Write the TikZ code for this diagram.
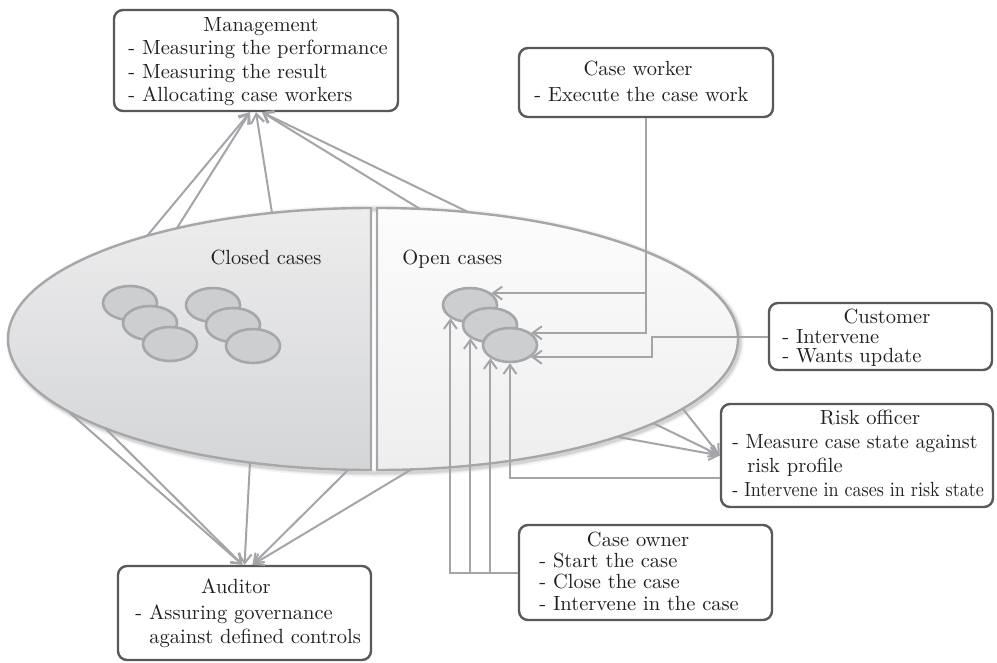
\documentclass[tikz,border=0pt]{standalone}
\usetikzlibrary{arrows.meta,shapes.geometric}
\definecolor{ink}{HTML}{231F20}
\definecolor{frame}{HTML}{58595B}
\definecolor{wire}{HTML}{A3A5A8}
\definecolor{rim}{HTML}{A5A7AA}
\definecolor{casefill}{HTML}{CDCECF}
\definecolor{closedtop}{HTML}{EDEDEE}
\definecolor{closedbot}{HTML}{D4D5D7}
\definecolor{opentop}{HTML}{FCFCFC}
\definecolor{openbot}{HTML}{EEEEEF}
\begin{document}
\begin{tikzpicture}[x=1pt,y=-1pt,
  role/.style={draw=frame, line width=2.4pt, rounded corners=9pt, fill=white, inner sep=0pt},
  txt/.style={scale=2.05, inner sep=0pt, text=ink, font=\fontsize{10}{12}\selectfont},
  case/.style={ellipse, draw=rim, line width=2.6pt, fill=casefill,
    minimum width=54pt, minimum height=34pt, inner sep=0pt},
  wire/.style={draw=wire, line width=2pt},
  arr/.style={wire, -{Straight Barb[length=9pt,width=13pt]}},
]
\useasboundingbox (0,0) rectangle (997,662);
\fill[white] (0,0) rectangle (997,662);

% soft shadow round the case pool
\foreach \w/\o in {8/0.04, 5/0.06, 3/0.08}
  \draw[black, opacity=\o, line width=\w pt]
    (375,341) ellipse[x radius=365, y radius=132];

% the case pool: closed half and open half
\path[draw=rim, line width=2.4pt, top color=closedtop, bottom color=closedbot]
  (371,208) arc[start angle=270, end angle=90, x radius=363, y radius=131] -- cycle;
\path[draw=rim, line width=2.4pt, top color=opentop, bottom color=openbot]
  (377,208) arc[start angle=-90, end angle=90, x radius=361, y radius=131] -- cycle;

\node[txt, anchor=base] (closedlbl) at (266,264) {Closed cases};
\node[txt, anchor=base west] (openlbl) at (402,264) {Open cases};

% closed cases
\node[case] (c1) at (130,303) {};
\node[case] (c2) at (150,323) {};
\node[case] (c3) at (170,344) {};
\node[case] (c4) at (213,305) {};
\node[case] (c5) at (233,325) {};
\node[case] (c6) at (253,346) {};

% open cases
\node[case] (o1) at (470,305) {};
\node[case] (o2) at (490,325) {};
\node[case] (o3) at (510,345) {};

% role boxes
\node[role, minimum width=284pt, minimum height=101pt] (mgmt) at (256,60.5) {};
\node[role, minimum width=254pt, minimum height=69pt] (cw) at (646,82.5) {};
\node[role, minimum width=223pt, minimum height=67pt] (cust) at (880.5,336.5) {};
\node[role, minimum width=272pt, minimum height=103pt] (ro) at (857,455.5) {};
\node[role, minimum width=253pt, minimum height=95pt] (co) at (645.5,572.5) {};
\node[role, minimum width=253pt, minimum height=94pt] (aud) at (244.5,613) {};

% points on the rim of the pool
\coordinate (mA) at (147,236);
\coordinate (mB) at (177,228);
\coordinate (mC) at (272,213);
\coordinate (mD) at (420,209);
\coordinate (mE) at (468,212);
\coordinate (aA) at (70,413);
\coordinate (aB) at (105,428);
\coordinate (aC) at (250,462);
\coordinate (aD) at (348,470);
\coordinate (aE) at (412,469);
\coordinate (rA) at (683,409);
\coordinate (rB) at (653,423);
\coordinate (rC) at (618,437);

% management measures both halves
\draw[arr] (mA) -- ([xshift=-6pt]mgmt.south);
\draw[arr] (mB) -- ([xshift=-6pt]mgmt.south);
\draw[arr] (mC) -- (mgmt.south);
\draw[arr] (mD) -- ([xshift=6pt]mgmt.south);
\draw[arr] (mE) -- ([xshift=6pt]mgmt.south);

% auditor
\draw[arr] (aA) -- ([xshift=-2pt]aud.north);
\draw[arr] (aB) -- ([xshift=-2pt]aud.north);
\draw[arr] (aC) -- (aud.north);
\draw[arr] (aD) -- ([xshift=8pt]aud.north);
\draw[arr] (aE) -- ([xshift=8pt]aud.north);

% risk officer
\draw[arr] (rA) -- (ro.west);
\draw[arr] (rB) -- (ro.west);
\draw[arr] (rC) -- (ro.west);
\draw[arr] ([yshift=-22.5pt]ro.west) -| (o3.south);

% case worker
\draw[arr] (cw.south) |- (o1.29);
\draw[arr] (cw.south) |- (o3.30);

% customer
\draw[arr] (cust.west) -- ++(-116,0) |- (o3.-30);

% case owner
\draw[arr] (co.west) -| (o1.214);
\draw[arr] (co.west) -| (o2.214);
\draw[arr] (co.west) -| (o3.214);

% box texts
\node[txt, anchor=base] (mgmtT) at (261,31) {Management};
\node[txt, anchor=base west] (mgmt1) at (128,54) {- Measuring the performance};
\node[txt, anchor=base west] (mgmt2) at (128,78) {- Measuring the result};
\node[txt, anchor=base west] (mgmt3) at (128,101) {- Allocating case workers};

\node[txt, anchor=base] (cwT) at (638,75) {Case worker};
\node[txt, anchor=base west] (cw1) at (534,101) {- Execute the case work};

\node[txt, anchor=base] (custT) at (887,323) {Customer};
\node[txt, anchor=base west] (cust1) at (782,343) {- Intervene};
\node[txt, anchor=base west] (cust2) at (782,362) {- Wants update};

\node[txt, anchor=base] (roT) at (870,424) {Risk officer};
\node[txt, anchor=base west, xscale=0.97] (ro1) at (732,448) {- Measure case state against};
\node[txt, anchor=base west] (ro2) at (747,472) {risk profile};
\node[txt, anchor=base west, xscale=0.88] (ro3) at (732,496) {- Intervene in cases in risk state};

\node[txt, anchor=base] (coT) at (638,546) {Case owner};
\node[txt, anchor=base west] (co1) at (539,567) {- Start the case};
\node[txt, anchor=base west] (co2) at (539,588) {- Close the case};
\node[txt, anchor=base west] (co3) at (539,610) {- Intervene in the case};

\node[txt, anchor=base] (audT) at (236,593) {Auditor};
\node[txt, anchor=base west] (aud1) at (135,619) {- Assuring governance};
\node[txt, anchor=base west] (aud2) at (149,643) {against defined controls};
\end{tikzpicture}
\end{document}
